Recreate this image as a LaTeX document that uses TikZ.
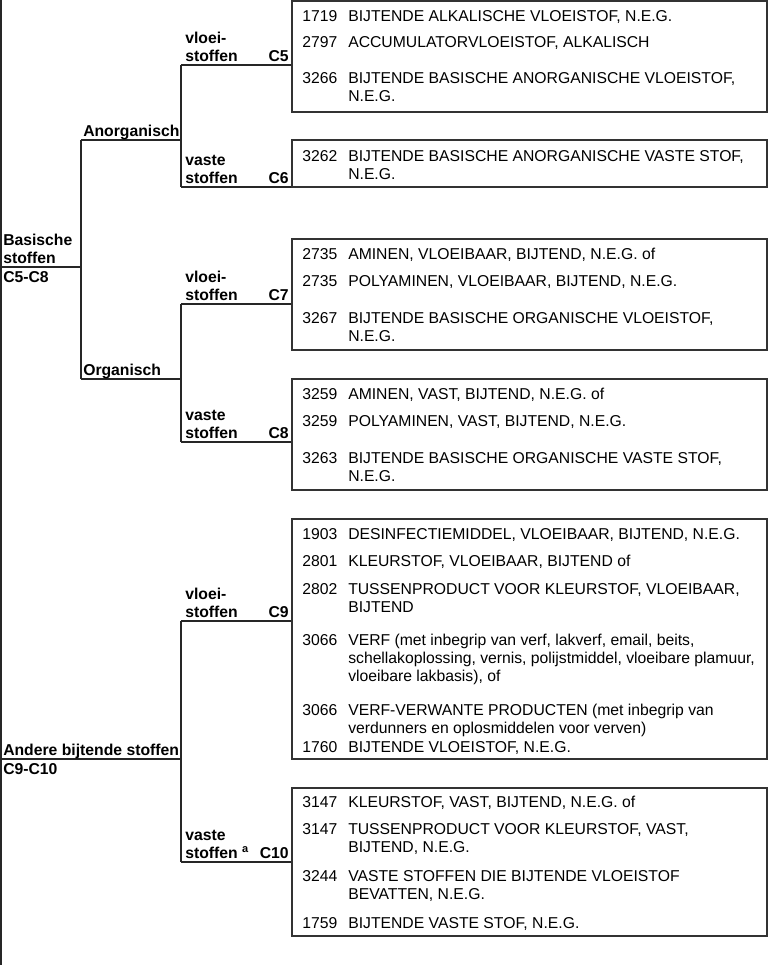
\documentclass[tikz,border=0pt]{standalone}
\usepackage{fontspec}
\setmainfont{Liberation Sans}
\usepackage{tikz}
\usetikzlibrary{positioning,fit}

\begin{document}
\begin{tikzpicture}[x=0.75pt,y=-0.75pt,
  tree/.style={line width=0.9pt,draw=black!85},
  box/.style={draw=black!80,line width=0.9pt,inner sep=0pt},
  lab/.style={anchor=base west,inner sep=0pt,font=\fontsize{11.8}{13.5}\selectfont\bfseries},
  cls/.style={anchor=base east,inner sep=0pt,font=\fontsize{11.8}{13.5}\selectfont\bfseries},
  num/.style={anchor=base west,inner sep=0pt,font=\fontsize{11.8}{13.5}\selectfont},
  txt/.style={anchor=base west,inner sep=0pt,font=\fontsize{11.8}{13.5}\selectfont}]
  \useasboundingbox (0,0) rectangle (768,965);

  % boxes
  \node[box,fit={(292,1) (767,112)}] (b1) {};
  \node[box,fit={(292,140) (767,187)}] (b2) {};
  \node[box,fit={(292,239) (767,350)}] (b3) {};
  \node[box,fit={(292,379) (767,490)}] (b4) {};
  \node[box,fit={(292,519) (767,759)}] (b5) {};
  \node[box,fit={(292,788) (767,936)}] (b6) {};

  % branch points
  \coordinate (top) at (1,0);
  \coordinate (bot) at (1,965);
  \coordinate (basL) at (1,267);
  \coordinate (basR) at (81,267);
  \coordinate (anoL) at (81,140);
  \coordinate (anoR) at (181,140);
  \coordinate (orgL) at (81,379);
  \coordinate (orgR) at (181,379);
  \coordinate (andL) at (1,759);
  \coordinate (andR) at (181,759);
  \coordinate (c5) at (181,65);
  \coordinate (c6) at (181,187);
  \coordinate (c7) at (181,304);
  \coordinate (c8) at (181,442);
  \coordinate (c9) at (181,621);
  \coordinate (c10) at (181,862);

  \draw[tree] (top) -- (bot);
  \draw[tree] (basL) -- (basR);
  \draw[tree] (anoL) -- (orgL);
  \draw[tree] (anoL) -- (anoR);
  \draw[tree] (orgL) -- (orgR);
  \draw[tree] (c5) -- (c6);
  \draw[tree] (c7) -- (c8);
  \draw[tree] (andL) -- (andR);
  \draw[tree] (c9) -- (c10);
  \draw[tree] (c5) -- (c5 -| b1.west);
  \draw[tree] (c6) -- (c6 -| b2.west);
  \draw[tree] (c7) -- (c7 -| b3.west);
  \draw[tree] (c8) -- (c8 -| b4.west);
  \draw[tree] (c9) -- (c9 -| b5.west);
  \draw[tree] (c10) -- (c10 -| b6.west);

  % tree labels
  \node[lab] (basa) at (3,245.5) {Basische};
  \node[lab] (basb) at (3,263.5) {stoffen};
  \node[lab] (basc) at (3,282) {C5-C8};
  \node[lab] (ano) at (83,136.5) {Anorganisch};
  \node[lab] (org) at (83,375.5) {Organisch};
  \node[lab] (anda) at (3,755.5) {Andere bijtende stoffen};
  \node[lab] (andb) at (3,774) {C9-C10};

  \node[lab] (l5a) at (185,43.5) {vloei-};
  \node[lab] (l5b) at (185,61.5) {stoffen};
  \node[cls] (k5) at (289,61.5) {C5};
  \node[lab] (l6a) at (185,165.5) {vaste};
  \node[lab] (l6b) at (185,183.5) {stoffen};
  \node[cls] (k6) at (289,183.5) {C6};
  \node[lab] (l7a) at (185,282.5) {vloei-};
  \node[lab] (l7b) at (185,300.5) {stoffen};
  \node[cls] (k7) at (289,300.5) {C7};
  \node[lab] (l8a) at (185,420.5) {vaste};
  \node[lab] (l8b) at (185,438.5) {stoffen};
  \node[cls] (k8) at (289,438.5) {C8};
  \node[lab] (l9a) at (185,599.5) {vloei-};
  \node[lab] (l9b) at (185,617.5) {stoffen};
  \node[cls] (k9) at (289,617.5) {C9};
  \node[lab] (l10a) at (185,840.5) {vaste};
  \node[lab] (l10b) at (185,858.5) {stoffen \textsuperscript{a}};
  \node[cls] (k10) at (289,858.5) {C10};

  % box 1
  \node[num] (b1n1) at (302,21) {1719};
  \node[txt] (b1t1) at (348,21) {BIJTENDE ALKALISCHE VLOEISTOF, N.E.G.};
  \node[num] (b1n2) at (302,47) {2797};
  \node[txt] (b1t2) at (348,47) {ACCUMULATORVLOEISTOF, ALKALISCH};
  \node[num] (b1n3) at (302,83) {3266};
  \node[txt] (b1t3) at (348,83) {BIJTENDE BASISCHE ANORGANISCHE VLOEISTOF,};
  \node[txt] (b1t3b) at (348,101) {N.E.G.};

  % box 2
  \node[num] (b2n1) at (302,161) {3262};
  \node[txt] (b2t1) at (348,161) {BIJTENDE BASISCHE ANORGANISCHE VASTE STOF,};
  \node[txt] (b2t1b) at (348,179) {N.E.G.};

  % box 3
  \node[num] (b3n1) at (302,259) {2735};
  \node[txt] (b3t1) at (348,259) {AMINEN, VLOEIBAAR, BIJTEND, N.E.G. of};
  \node[num] (b3n2) at (302,286) {2735};
  \node[txt] (b3t2) at (348,286) {POLYAMINEN, VLOEIBAAR, BIJTEND, N.E.G.};
  \node[num] (b3n3) at (302,323) {3267};
  \node[txt] (b3t3) at (348,323) {BIJTENDE BASISCHE ORGANISCHE VLOEISTOF,};
  \node[txt] (b3t3b) at (348,341) {N.E.G.};

  % box 4
  \node[num] (b4n1) at (302,399) {3259};
  \node[txt] (b4t1) at (348,399) {AMINEN, VAST, BIJTEND, N.E.G. of};
  \node[num] (b4n2) at (302,426) {3259};
  \node[txt] (b4t2) at (348,426) {POLYAMINEN, VAST, BIJTEND, N.E.G.};
  \node[num] (b4n3) at (302,463) {3263};
  \node[txt] (b4t3) at (348,463) {BIJTENDE BASISCHE ORGANISCHE VASTE STOF,};
  \node[txt] (b4t3b) at (348,481) {N.E.G.};

  % box 5
  \node[num] (b5n1) at (302,539) {1903};
  \node[txt] (b5t1) at (348,539) {DESINFECTIEMIDDEL, VLOEIBAAR, BIJTEND, N.E.G.};
  \node[num] (b5n2) at (302,566) {2801};
  \node[txt] (b5t2) at (348,566) {KLEURSTOF, VLOEIBAAR, BIJTEND of};
  \node[num] (b5n3) at (302,594) {2802};
  \node[txt] (b5t3) at (348,594) {TUSSENPRODUCT VOOR KLEURSTOF, VLOEIBAAR,};
  \node[txt] (b5t3b) at (348,612) {BIJTEND};
  \node[num] (b5n4) at (302,645) {3066};
  \node[txt] (b5t4) at (348,645) {VERF (met inbegrip van verf, lakverf, email, beits,};
  \node[txt] (b5t4b) at (348,663) {schellakoplossing, vernis, polijstmiddel, vloeibare plamuur,};
  \node[txt] (b5t4c) at (348,681) {vloeibare lakbasis), of};
  \node[num] (b5n5) at (302,715) {3066};
  \node[txt] (b5t5) at (348,715) {VERF-VERWANTE PRODUCTEN (met inbegrip van};
  \node[txt] (b5t5b) at (348,733) {verdunners en oplosmiddelen voor verven)};
  \node[num] (b5n6) at (302,752) {1760};
  \node[txt] (b5t6) at (348,752) {BIJTENDE VLOEISTOF, N.E.G.};

  % box 6
  \node[num] (b6n1) at (302,807) {3147};
  \node[txt] (b6t1) at (348,807) {KLEURSTOF, VAST, BIJTEND, N.E.G. of};
  \node[num] (b6n2) at (302,834) {3147};
  \node[txt] (b6t2) at (348,834) {TUSSENPRODUCT VOOR KLEURSTOF, VAST,};
  \node[txt] (b6t2b) at (348,852) {BIJTEND, N.E.G.};
  \node[num] (b6n3) at (302,881) {3244};
  \node[txt] (b6t3) at (348,881) {VASTE STOFFEN DIE BIJTENDE VLOEISTOF};
  \node[txt] (b6t3b) at (348,899) {BEVATTEN, N.E.G.};
  \node[num] (b6n4) at (302,928) {1759};
  \node[txt] (b6t4) at (348,928) {BIJTENDE VASTE STOF, N.E.G.};
\end{tikzpicture}
\end{document}
